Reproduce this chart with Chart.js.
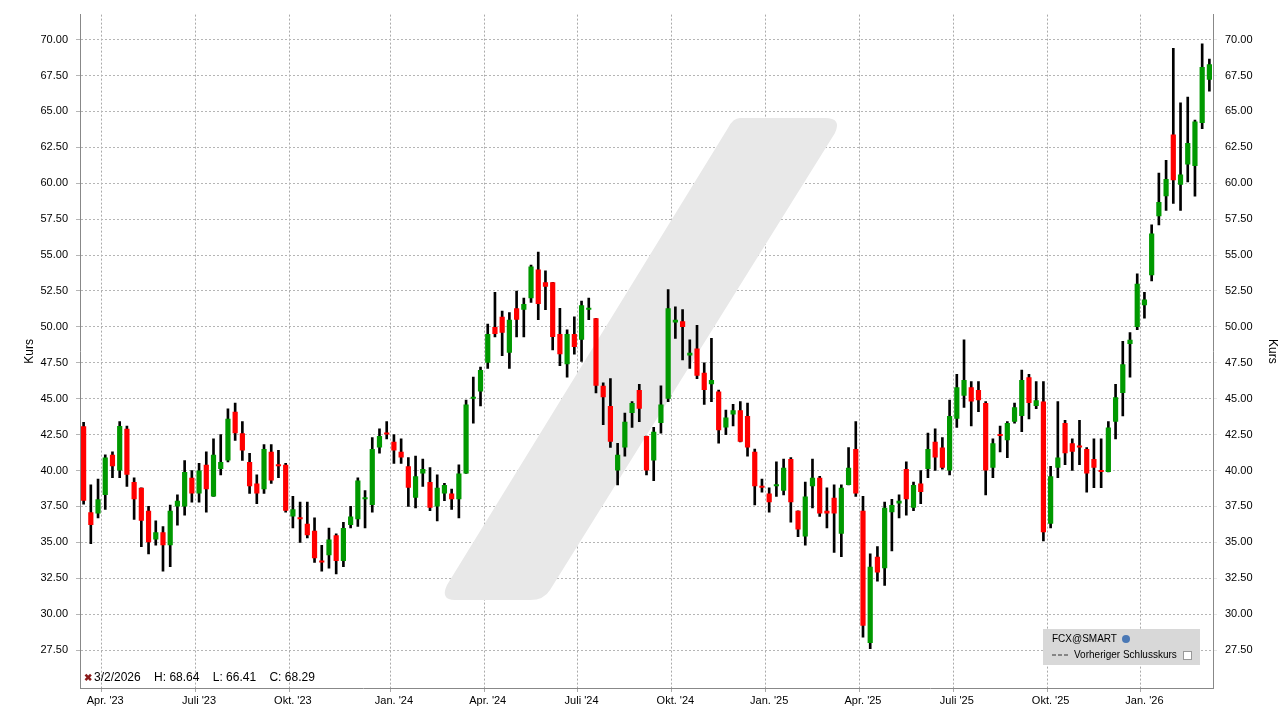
<!DOCTYPE html>
<html><head><meta charset="utf-8">
<script src="https://cdn.jsdelivr.net/npm/chart.js@4"></script>
<style>html,body{margin:0;padding:0;background:#fff}</style>
</head><body><canvas id="c" width="1280" height="719"></canvas>
<script>
const opens=[43.08,37.1,37.0,38.3,41.1,40.0,42.9,39.2,38.8,37.2,35.2,35.7,34.8,37.5,37.5,39.5,38.4,40.4,38.2,40.1,40.7,44.1,42.6,40.6,39.1,38.7,41.3,40.4,40.4,36.8,36.7,36.3,35.8,33.7,34.1,35.5,33.7,36.2,36.6,38.0,37.6,
41.6,42.6,42.0,41.3,40.3,38.1,39.8,39.2,37.5,38.4,38.4,38.0,39.8,45.0,45.5,47.5,50.0,50.7,48.2,51.3,51.2,52.0,54.0,53.1,53.1,49.5,47.4,49.5,49.1,51.2,50.6,45.9,44.5,40.0,41.6,44.0,45.6,42.4,40.7,43.3,
45.0,50.3,50.4,48.0,48.5,46.8,46.0,45.5,43.0,43.9,44.2,43.8,41.3,38.9,38.4,38.9,38.6,40.8,37.2,35.4,38.9,39.5,37.2,38.1,35.6,39.0,41.5,37.2,28.0,34.0,33.2,37.1,37.7,40.1,37.4,39.1,40.1,42.0,41.6,
40.0,43.6,45.2,45.8,45.6,44.7,40.2,42.5,42.1,43.4,43.8,46.5,44.5,44.8,36.3,40.2,43.3,41.9,41.7,41.5,40.8,40.0,39.9,43.4,45.4,48.8,50.0,51.5,53.6,57.7,59.1,63.4,59.9,61.3,61.2,64.2,67.2];
const highs=[43.36,39.0,39.4,41.1,41.3,43.4,43.1,39.5,38.8,37.5,36.5,36.1,37.6,38.3,40.7,40.0,40.5,41.3,42.2,42.5,44.3,44.7,43.4,41.2,39.7,41.8,41.8,41.4,40.5,38.2,37.8,37.8,36.7,34.8,36.0,35.6,36.4,37.5,39.5,38.6,42.3,
42.9,43.4,42.5,42.2,40.9,41.0,40.8,40.2,39.7,39.1,38.7,40.4,44.9,46.5,47.2,50.2,52.4,51.1,51.0,52.5,52.0,54.3,55.2,53.9,53.1,51.3,49.8,50.7,51.8,52.0,50.6,46.1,46.4,41.9,44.0,44.8,46.0,42.4,43.0,45.9,
52.6,51.4,51.2,49.1,50.1,47.5,49.2,45.6,44.2,44.6,44.8,44.7,41.5,39.4,38.8,40.6,40.8,40.9,37.2,39.2,40.8,39.6,38.8,39.0,39.0,41.6,43.4,38.2,34.2,34.7,37.8,38.0,38.3,40.6,39.2,40.0,42.6,42.9,42.3,
44.9,46.7,49.1,46.2,46.2,44.8,42.2,43.1,43.4,44.7,47.0,46.7,46.2,46.2,40.3,44.8,43.5,42.2,43.5,41.6,42.2,42.2,43.4,46.0,49.0,49.6,53.7,52.4,57.1,60.7,61.6,69.4,65.6,66.0,64.4,69.7,68.64];
const lows=[37.66,34.9,36.7,37.3,39.5,39.5,38.9,36.6,34.7,34.2,34.8,33.0,33.3,36.2,36.9,37.8,37.8,37.1,38.2,39.7,40.6,42.1,40.7,38.4,37.7,38.4,39.1,39.5,37.1,36.0,35.0,35.3,33.6,33.0,33.2,32.8,33.3,36.0,36.1,36.0,37.1,
41.2,42.2,40.5,40.5,37.5,37.4,38.9,37.2,36.5,37.9,37.3,36.7,39.8,43.3,44.5,47.1,49.3,48.0,47.1,49.3,49.3,51.7,50.5,51.2,48.4,47.3,46.5,48.1,47.6,50.5,45.4,43.2,41.6,39.0,41.0,43.0,43.4,39.7,39.3,42.6,
44.8,49.2,47.7,47.1,46.4,44.6,44.8,41.9,42.5,43.1,42.0,41.0,37.6,38.5,37.1,38.2,38.3,36.4,35.4,34.8,37.4,36.8,36.0,34.3,34.0,39.0,38.2,28.4,27.6,32.3,32.0,34.4,36.7,36.9,37.2,37.7,39.5,40.0,40.1,
39.7,43.0,44.4,43.1,44.1,38.3,39.5,41.3,40.9,43.3,42.7,43.6,44.3,35.1,36.0,39.5,40.4,40.0,40.4,38.5,38.8,38.8,39.9,42.2,43.8,46.5,49.8,50.6,53.2,57.1,58.1,58.6,58.1,60.1,59.1,63.8,66.41];
const closes=[37.9,36.2,38.0,40.9,40.3,43.1,39.7,38.0,36.5,35.0,35.7,34.8,37.2,37.9,39.9,38.4,40.0,38.7,41.1,40.6,43.6,42.6,41.4,38.9,38.4,41.5,39.3,40.3,37.2,37.3,36.6,35.5,33.9,33.6,35.2,33.7,36.0,36.8,39.3,38.1,41.5,
42.4,42.5,41.4,40.9,38.8,39.6,40.1,37.4,38.8,39.0,38.0,39.8,44.6,45.1,47.0,49.5,49.5,49.6,50.5,50.5,51.6,54.2,51.6,52.8,49.3,48.1,49.5,48.6,51.5,51.3,45.9,45.1,42.0,41.1,43.4,44.7,44.3,40.0,42.7,44.6,
51.3,50.5,50.0,48.2,46.6,45.6,46.3,42.8,43.7,44.2,42.0,41.6,38.9,38.8,37.8,39.0,40.2,37.8,35.9,38.2,39.5,37.0,37.0,37.0,38.8,40.2,38.4,29.2,33.3,32.9,37.4,37.6,37.9,38.0,39.0,38.5,41.5,40.9,40.2,
43.8,45.8,46.3,44.8,44.9,40.0,41.9,42.4,43.3,44.4,46.3,44.7,44.9,35.7,39.6,40.9,41.2,41.3,41.6,39.8,40.2,39.9,43.0,45.1,47.4,49.1,53.0,51.9,56.5,58.7,60.3,60.2,60.6,62.8,64.3,68.1,68.29];
const yTicks=[27.5,30,32.5,35,37.5,40,42.5,45,47.5,50,52.5,55,57.5,60,62.5,65,67.5,70];
const mon=['Jan.','Feb.','März','Apr.','Mai','Juni','Juli','Aug.','Sep.','Okt.','Nov.','Dez.'];
const labels=[];const qLabel=[];
{const d0=new Date(Date.UTC(2026,2,2));const n=opens.length;
 for(let i=0;i<n;i++){const d=new Date(d0.getTime()-(n-1-i)*7*864e5);labels.push((d.getUTCMonth()+1)+'/'+d.getUTCDate()+'/'+d.getUTCFullYear());
  const e=new Date(d.getTime()+6*864e5);let q='';
  if(e.getUTCMonth()!==d.getUTCMonth()||d.getUTCDate()===1){const m=d.getUTCDate()===1?d.getUTCMonth():e.getUTCMonth();const y=d.getUTCDate()===1?d.getUTCFullYear():e.getUTCFullYear();if(m%3===0)q=mon[m]+" '"+String(y).slice(2);}
  qLabel.push(q);}}
const bodies=opens.map((o,i)=>[o,closes[i]]);
const wicks=lows.map((l,i)=>[l,highs[i]]);
const cols=opens.map((o,i)=>closes[i]>=o?'#009900':'#ff0000');
const F='"Liberation Sans", Arial, sans-serif';
const deco={id:'deco',beforeDatasetsDraw(ch){const c=ch.ctx;c.save();c.fillStyle='#e8e8e8';c.beginPath();
 c.moveTo(740,118);c.lineTo(825,118);c.quadraticCurveTo(842,118,835,133);c.lineTo(550,590);c.quadraticCurveTo(544,600,530,600);c.lineTo(455,600);c.quadraticCurveTo(440,600,447,585);c.lineTo(728,128);c.quadraticCurveTo(733,118,740,118);c.fill();c.restore();},
 afterDraw(ch){const c=ch.ctx;c.save();c.textBaseline='middle';
 c.fillStyle='#8b1a1a';c.font='bold 10px sans-serif';c.fillText('✖',84,678);c.fillStyle='#000';c.font='12px '+F;
 c.fillText('3/2/2026    H: 68.64    L: 66.41    C: 68.29',94,678);
 c.fillStyle='#d8d8d8';c.fillRect(1043,629,157,36);c.fillStyle='#000';c.font='10px '+F;
 c.fillText('FCX@SMART',1052,639);c.fillStyle='#4a78b5';c.beginPath();c.arc(1126,639,4,0,7);c.fill();
 c.strokeStyle='#333';c.setLineDash([4,2]);c.beginPath();c.moveTo(1052,655);c.lineTo(1070,655);c.stroke();c.setLineDash([]);
 c.fillStyle='#000';c.fillText('Vorheriger Schlusskurs',1074,655);c.fillStyle='#fff';c.fillRect(1183,651,8,8);c.strokeStyle='#999';c.strokeRect(1183.5,651.5,8,8);
 c.restore();}};
const yBase={min:24.86,max:71.74,afterBuildTicks(s){s.ticks=yTicks.map(v=>({value:v}));},
 ticks:{autoSkip:false,callback:v=>v.toFixed(2),color:'#000',font:{size:11,family:F},padding:8},
 border:{color:'#888',dash:[2,2]}};
new Chart(document.getElementById('c'),{type:'bar',
 data:{labels,datasets:[
  {data:wicks,backgroundColor:'#000',barThickness:2,grouped:false,order:2,yAxisID:'y'},
  {data:bodies,backgroundColor:cols,barPercentage:0.72,categoryPercentage:1,grouped:false,order:1,minBarLength:2,yAxisID:'y'}]},
 options:{responsive:false,animation:false,devicePixelRatio:1,layout:{padding:{top:3,left:0,right:0,bottom:0}},
  plugins:{legend:{display:false},tooltip:{enabled:false}},
  scales:{
   x:{offset:true,grid:{color:ctx=>qLabel[ctx.index]?'#aaa':'rgba(0,0,0,0)',tickLength:4},border:{color:'#888',dash:[2,2]},
     ticks:{autoSkip:false,maxRotation:0,callback:(v,i)=>qLabel[i],color:'#000',font:{size:11,family:F},padding:2},
     afterFit(s){s.height=31;}},
   y:{...yBase,position:'left',grid:{color:'#b5b5b5',tickLength:4},title:{display:true,text:'Kurs',color:'#000',font:{size:12,family:F},padding:{top:22,bottom:0}},afterFit(s){s.width=80;}},
   y2:{...yBase,position:'right',grid:{drawOnChartArea:false,tickLength:4},title:{display:true,text:'Kurs',color:'#000',font:{size:12,family:F},padding:{top:0,bottom:4}},afterFit(s){s.width=67;}}
  }},plugins:[deco]});
</script></body></html>
